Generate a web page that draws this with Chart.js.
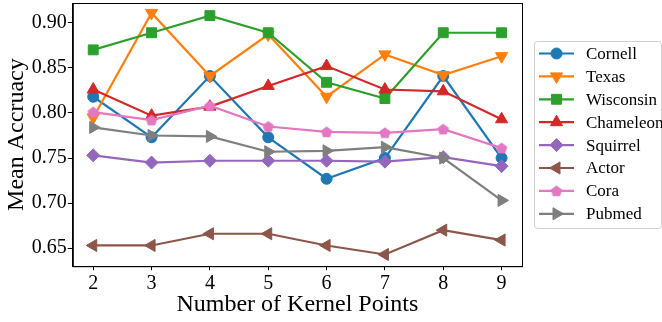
<!DOCTYPE html>
<html>
<head>
<meta charset="utf-8">
<script src="https://cdn.jsdelivr.net/npm/chart.js@4"></script>
<style>
  html, body { margin: 0; padding: 0; background: #fff; }
</style>
</head>
<body>
<canvas id="accChart" width="662" height="322"></canvas>
<script>
// Data
const kernelPoints = [2, 3, 4, 5, 6, 7, 8, 9];
const cornell   = [0.818, 0.773, 0.841, 0.773, 0.727, 0.750, 0.841, 0.750];
const texas     = [0.795, 0.911, 0.841, 0.887, 0.818, 0.865, 0.842, 0.863];
const wisconsin = [0.870, 0.889, 0.908, 0.889, 0.834, 0.816, 0.889, 0.889];
const chameleon = [0.826, 0.797, 0.807, 0.830, 0.852, 0.826, 0.824, 0.793];
const squirrel  = [0.753, 0.745, 0.747, 0.747, 0.747, 0.746, 0.751, 0.741];
const actor     = [0.653, 0.653, 0.666, 0.666, 0.653, 0.643, 0.670, 0.659];
const cora      = [0.801, 0.792, 0.808, 0.785, 0.779, 0.778, 0.782, 0.761];
const pubmed    = [0.784, 0.775, 0.774, 0.757, 0.758, 0.762, 0.750, 0.703];
const yTicks = [0.65, 0.70, 0.75, 0.80, 0.85, 0.90];

const serif = '"Liberation Serif", "DejaVu Serif", serif';

// pentagon marker for Cora (no built-in one)
function makePentagon(color, r) {
  const c = document.createElement("canvas");
  const s = Math.ceil(r * 2) + 2;
  c.width = s; c.height = s;
  const g = c.getContext("2d");
  g.beginPath();
  for (let i = 0; i < 5; i++) {
    const a = -Math.PI / 2 + i * 2 * Math.PI / 5;
    const px = s / 2 + r * Math.cos(a), py = s / 2 + r * Math.sin(a) + 0.5;
    i === 0 ? g.moveTo(px, py) : g.lineTo(px, py);
  }
  g.closePath();
  g.fillStyle = color;
  g.fill();
  return c;
}

const series = [
  { label: "Cornell",   data: cornell,   color: "#1f77b4", style: "circle",   rot: 0,   r: 5.5 },
  { label: "Texas",     data: texas,     color: "#ff7f0e", style: "triangle", rot: 180, r: 7 },
  { label: "Wisconsin", data: wisconsin, color: "#2ca02c", style: "rect",     rot: 0,   r: 7 },
  { label: "Chameleon", data: chameleon, color: "#d62728", style: "triangle", rot: 0,   r: 7 },
  { label: "Squirrel",  data: squirrel,  color: "#9467bd", style: "rectRot",  rot: 0,   r: 6.5 },
  { label: "Actor",     data: actor,     color: "#8c564b", style: "triangle", rot: 270, r: 7 },
  { label: "Cora",      data: cora,      color: "#e377c2", style: makePentagon("#e377c2", 6), rot: 0, r: 6 },
  { label: "Pubmed",    data: pubmed,    color: "#7f7f7f", style: "triangle", rot: 90,  r: 7 },
];

const datasets = series.map((s, i) => ({
  label: s.label,
  data: kernelPoints.map((k, j) => ({ x: k, y: s.data[j] })),
  borderColor: s.color,
  backgroundColor: s.color,
  borderWidth: 2.2,
  pointStyle: s.style,
  pointRotation: s.rot,
  pointRadius: s.r,
  pointHoverRadius: s.r,
  pointBackgroundColor: s.color,
  pointBorderColor: s.color,
  pointBorderWidth: 1,
  tension: 0,
  order: series.length - i,
}));

// box around the plot like matplotlib spines
const framePlugin = {
  id: "frame",
  afterDatasetsDraw(chart) {
    const { ctx, chartArea: a } = chart;
    ctx.save();
    ctx.strokeStyle = "#000";
    ctx.lineWidth = 1;
    ctx.strokeRect(a.left + 0.5, a.top + 0.5, a.right - a.left, a.bottom - a.top);
    ctx.restore();
  },
};

// legend with line + marker, matplotlib style
const legendPlugin = {
  id: "mplLegend",
  afterDraw(chart) {
    const ctx = chart.ctx;
    const x0 = 534, y0 = 41, w = 127, h = 187, rowH = 22.9;
    ctx.save();
    ctx.strokeStyle = "#d0d0d0";
    ctx.lineWidth = 1;
    ctx.beginPath();
    ctx.roundRect(x0 + 0.5, y0 + 0.5, w, h, 3);
    ctx.fillStyle = "rgba(255,255,255,0.8)";
    ctx.fill();
    ctx.stroke();
    ctx.font = "17px " + serif;
    ctx.textBaseline = "middle";
    series.forEach((s, i) => {
      const cy = y0 + 12.5 + i * rowH;
      ctx.strokeStyle = s.color;
      ctx.lineWidth = 2.2;
      ctx.beginPath();
      ctx.moveTo(539, cy);
      ctx.lineTo(574, cy);
      ctx.stroke();
      ctx.fillStyle = s.color;
      ctx.strokeStyle = s.color;
      ctx.lineWidth = 1;
      Chart.helpers.drawPoint(ctx, { pointStyle: s.style, rotation: s.rot, radius: s.r, borderWidth: 1 }, 556.5, cy);
      ctx.fillStyle = "#000";
      ctx.fillText(s.label, 586, cy + 1);
    });
    ctx.restore();
  },
};

new Chart(document.getElementById("accChart"), {
  type: "line",
  data: { datasets },
  options: {
    responsive: false,
    animation: false,
    devicePixelRatio: 1,
    layout: { autoPadding: false, padding: { top: 3, right: 140, bottom: 3, left: 2 } },
    plugins: { legend: { display: false }, tooltip: { enabled: false } },
    scales: {
      x: {
        type: "linear",
        min: 1.65,
        max: 9.35,
        afterBuildTicks: (axis) => { axis.ticks = kernelPoints.map((v) => ({ value: v })); },
        ticks: { color: "#000", font: { family: serif, size: 20 }, padding: 2, callback: (v) => String(v) },
        grid: { display: true, drawOnChartArea: false, drawTicks: true, tickLength: 4, color: "#000" },
        border: { display: true, color: "#000" },
        title: { display: true, text: "Number of Kernel Points", color: "#000", font: { family: serif, size: 24 }, padding: { top: -8, bottom: 0 } },
      },
      y: {
        min: 0.630,
        max: 0.922,
        afterBuildTicks: (axis) => { axis.ticks = yTicks.map((v) => ({ value: v })); },
        afterFit: (axis) => { axis.paddingTop = 0; axis.paddingBottom = 0; },
        ticks: { color: "#000", font: { family: serif, size: 20 }, padding: 1, callback: (v) => v.toFixed(2) },
        grid: { display: true, drawOnChartArea: false, drawTicks: true, tickLength: 5, color: "#000" },
        border: { display: true, color: "#000" },
        title: { display: true, text: "Mean Accruacy", color: "#000", font: { family: serif, size: 24 }, padding: { top: 0, bottom: 0 } },
      },
    },
  },
  plugins: [framePlugin, legendPlugin],
});
</script>
</body>
</html>
